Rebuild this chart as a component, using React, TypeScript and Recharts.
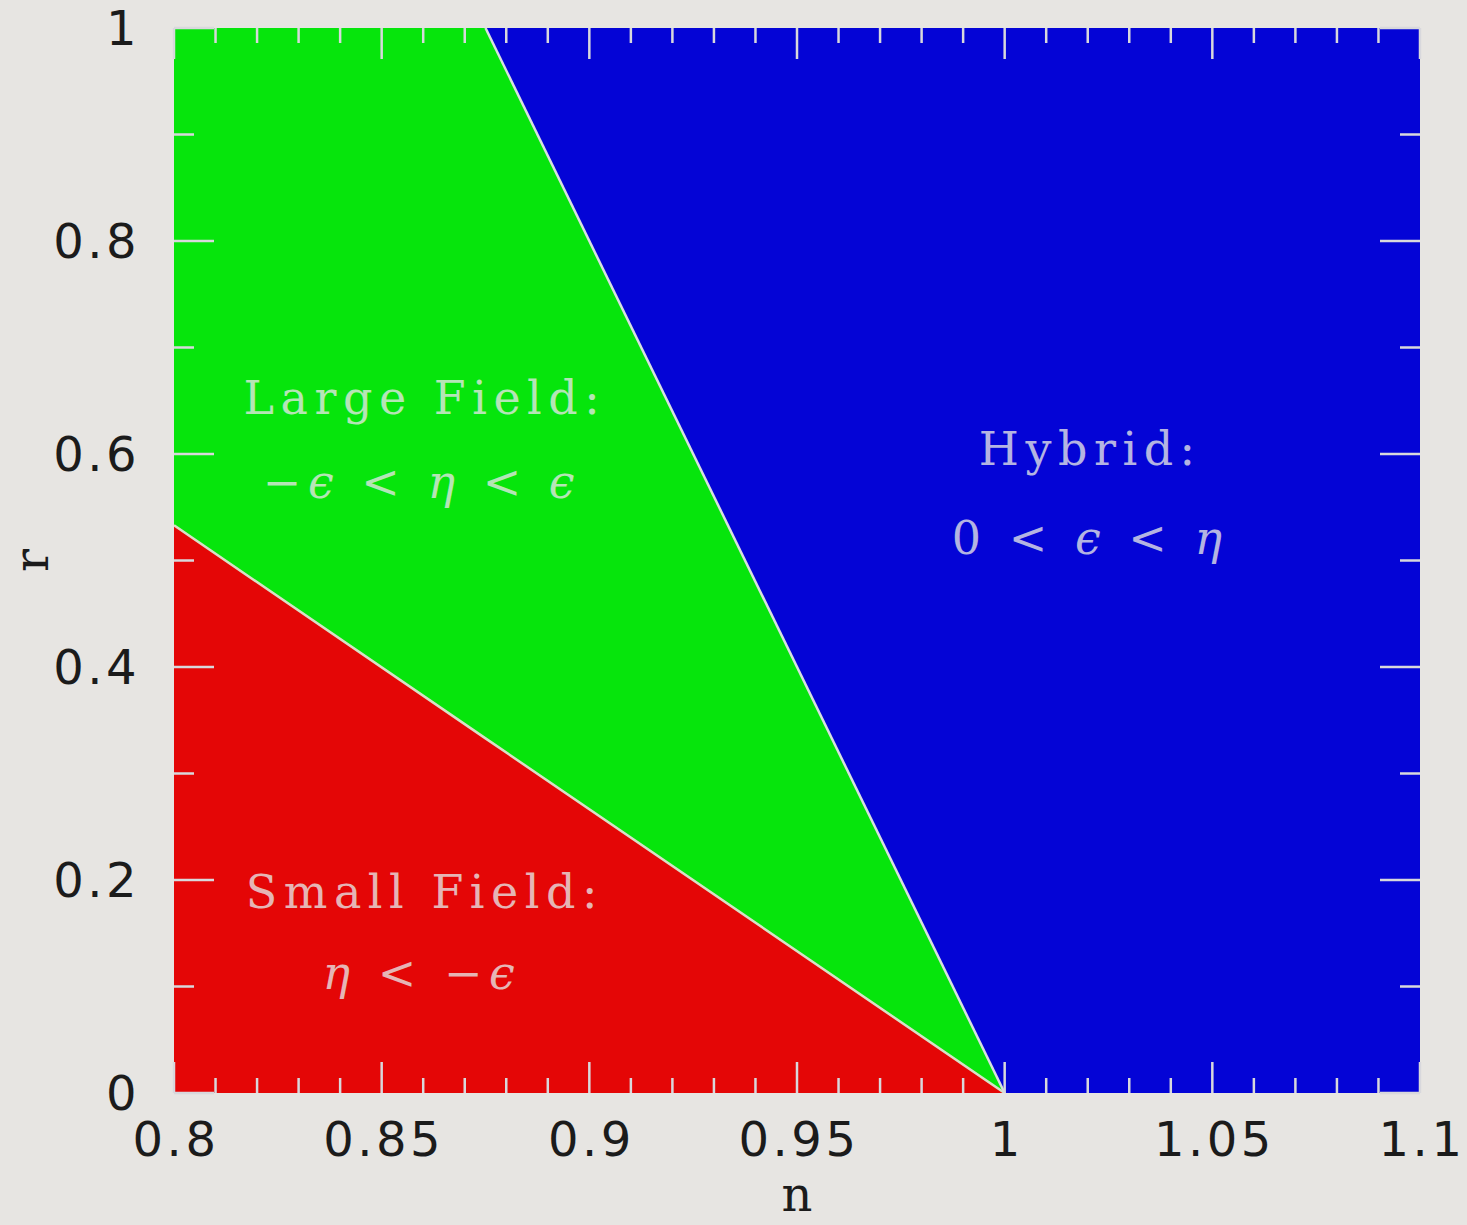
import { ComposedChart, Area, Line, XAxis, YAxis, ReferenceDot } from "recharts";

// n grid where the region boundaries bend
const nValues = [0.8, 0.875, 1.0, 1.1];
// small field / large field boundary (r at each n)
const smallFieldTop = [0.533, 0.333, 0, 0];
// large field / hybrid boundary, clipped at r = 1
const hybridEdge = [1, 1, 0, 0];
const rMax = 1;

const xMajorTicks = [0.8, 0.85, 0.9, 0.95, 1, 1.05, 1.1];
const xMinorTicks = [
  0.81, 0.82, 0.83, 0.84, 0.86, 0.87, 0.88, 0.89, 0.91, 0.92, 0.93, 0.94,
  0.96, 0.97, 0.98, 0.99, 1.01, 1.02, 1.03, 1.04, 1.06, 1.07, 1.08, 1.09,
];
const yMajorTicks = [0, 0.2, 0.4, 0.6, 0.8, 1];
const yMinorTicks = [0.1, 0.3, 0.5, 0.7, 0.9];

const regionNotes = [
  { n: 0.8604, r: 0.653, text: "Large Field:" },
  { n: 0.8597, r: 0.5737, text: "\u2212\u03f5 < \u03b7 < \u03f5" },
  { n: 1.0206, r: 0.6047, text: "Hybrid:" },
  { n: 1.0206, r: 0.5211, text: "0 < \u03f5 < \u03b7" },
  { n: 0.8604, r: 0.1887, text: "Small Field:" },
  { n: 0.8597, r: 0.1127, text: "\u03b7 < \u2212\u03f5" },
];

const rows = nValues.map((n, i) => ({
  n,
  red: [0, smallFieldTop[i]],
  green: [smallFieldTop[i], hybridEdge[i]],
  blue: [hybridEdge[i], rMax],
  smallLine: n <= 1 ? smallFieldTop[i] : null,
  hybridLine: n >= 0.875 && n <= 1 ? hybridEdge[i] : null,
}));

const xTicks = [...xMajorTicks, ...xMinorTicks].sort((a, b) => a - b);
const yTicks = [...yMajorTicks, ...yMinorTicks].sort((a, b) => a - b);

const TICK_COLOR = "#d8d8dc";
const LABEL_FONT = "'DejaVu Sans', sans-serif";
const NOTE_FONT = "'DejaVu Serif', serif";

const BottomTick = (p: any) => {
  const major = xMajorTicks.includes(p.payload.value);
  return (
    <g>
      <line x1={p.x} x2={p.x} y1={p.y} y2={p.y - (major ? 31 : 15)} stroke={TICK_COLOR} strokeWidth={2.5} />
      {major && (
        <text x={p.x + 2} y={p.y + 29} dy="0.71em" textAnchor="middle" fill="#1b1b1b"
          fontSize={48} fontFamily={LABEL_FONT} letterSpacing={3.5}>
          {String(p.payload.value)}
        </text>
      )}
    </g>
  );
};

const TopTick = (p: any) => {
  const major = xMajorTicks.includes(p.payload.value);
  return <line x1={p.x} x2={p.x} y1={p.y} y2={p.y + (major ? 31 : 15)} stroke={TICK_COLOR} strokeWidth={2.5} />;
};

const LeftTick = (p: any) => {
  const major = yMajorTicks.includes(p.payload.value);
  return (
    <g>
      <line x1={p.x} x2={p.x + (major ? 40 : 20)} y1={p.y} y2={p.y} stroke={TICK_COLOR} strokeWidth={2.5} />
      {major && (
        <text x={p.x - 34} y={p.y} dy="0.355em" textAnchor="end" fill="#1b1b1b"
          fontSize={48} fontFamily={LABEL_FONT} letterSpacing={3.5}>
          {String(p.payload.value)}
        </text>
      )}
    </g>
  );
};

const RightTick = (p: any) => {
  const major = yMajorTicks.includes(p.payload.value);
  return <line x1={p.x} x2={p.x - (major ? 40 : 20)} y1={p.y} y2={p.y} stroke={TICK_COLOR} strokeWidth={2.5} />;
};

// greek letters italic, rest upright
const noteText = (s: string, cx: number, cy: number) => (
  <text x={cx} y={cy} textAnchor="middle" dominantBaseline="central" fill="#e6e6e6"
    fillOpacity={0.78} fontSize={46} fontFamily={NOTE_FONT} letterSpacing={6.5}>
    {s.split("").map((ch, i) => (
      <tspan key={i} fontStyle={/[\u0370-\u03ff]/.test(ch) ? "italic" : "normal"}>{ch}</tspan>
    ))}
  </text>
);

const YLabel = (p: any) => {
  const vb = p.viewBox;
  const cy = vb.y + vb.height / 2;
  return (
    <text x={48} y={cy} textAnchor="middle" transform={`rotate(-90 48 ${cy})`} fill="#1b1b1b"
      fontSize={48} fontFamily={NOTE_FONT}>
      r
    </text>
  );
};

export default function App() {
  return (
    <div style={{ position: "absolute", left: 0, top: 0, width: 1467, height: 1225, background: "#e7e5e2" }}>
      <ComposedChart width={1467} height={1225} data={rows} margin={{ top: 28, right: 47, bottom: 0, left: 0 }}>
        <XAxis xAxisId="x" dataKey="n" type="number" domain={[0.8, 1.1]} allowDataOverflow
          ticks={xTicks} interval={0} height={132} tickSize={0} tickMargin={0}
          axisLine={false} tickLine={false} tick={BottomTick}
          label={{ value: "n", position: "insideBottom", offset: 14, fill: "#1b1b1b", fontSize: 48, fontFamily: NOTE_FONT }} />
        <XAxis xAxisId="xt" dataKey="n" type="number" orientation="top" mirror domain={[0.8, 1.1]} allowDataOverflow
          ticks={xTicks} interval={0} tickSize={0} tickMargin={0} axisLine={false} tickLine={false} tick={TopTick} />
        <YAxis yAxisId="y" type="number" domain={[0, 1]} allowDataOverflow ticks={yTicks} interval={0}
          width={174} tickSize={0} tickMargin={0} axisLine={false} tickLine={false} tick={LeftTick}
          label={{ content: YLabel }} />
        <YAxis yAxisId="yr" type="number" orientation="right" mirror domain={[0, 1]} allowDataOverflow
          ticks={yTicks} interval={0} tickSize={0} tickMargin={0} axisLine={false} tickLine={false} tick={RightTick} />

        <Area xAxisId="x" yAxisId="y" type="linear" dataKey="blue" stroke="none" fill="#0404d6" fillOpacity={1} isAnimationActive={false} />
        <Area xAxisId="x" yAxisId="y" type="linear" dataKey="green" stroke="none" fill="#06e50c" fillOpacity={1} isAnimationActive={false} />
        <Area xAxisId="x" yAxisId="y" type="linear" dataKey="red" stroke="none" fill="#e40606" fillOpacity={1} isAnimationActive={false} />
        <Line xAxisId="x" yAxisId="y" type="linear" dataKey="smallLine" stroke="#d8e0c8" strokeWidth={2.5} dot={false} isAnimationActive={false} />
        <Line xAxisId="x" yAxisId="y" type="linear" dataKey="hybridLine" stroke="#d8e0e0" strokeWidth={2.5} dot={false} isAnimationActive={false} />

        {regionNotes.map((note) => (
          <ReferenceDot key={note.text} xAxisId="x" yAxisId="y" x={note.n} y={note.r} r={0}
            shape={(p: any) => noteText(note.text, p.cx, p.cy)} />
        ))}
      </ComposedChart>
    </div>
  );
}
